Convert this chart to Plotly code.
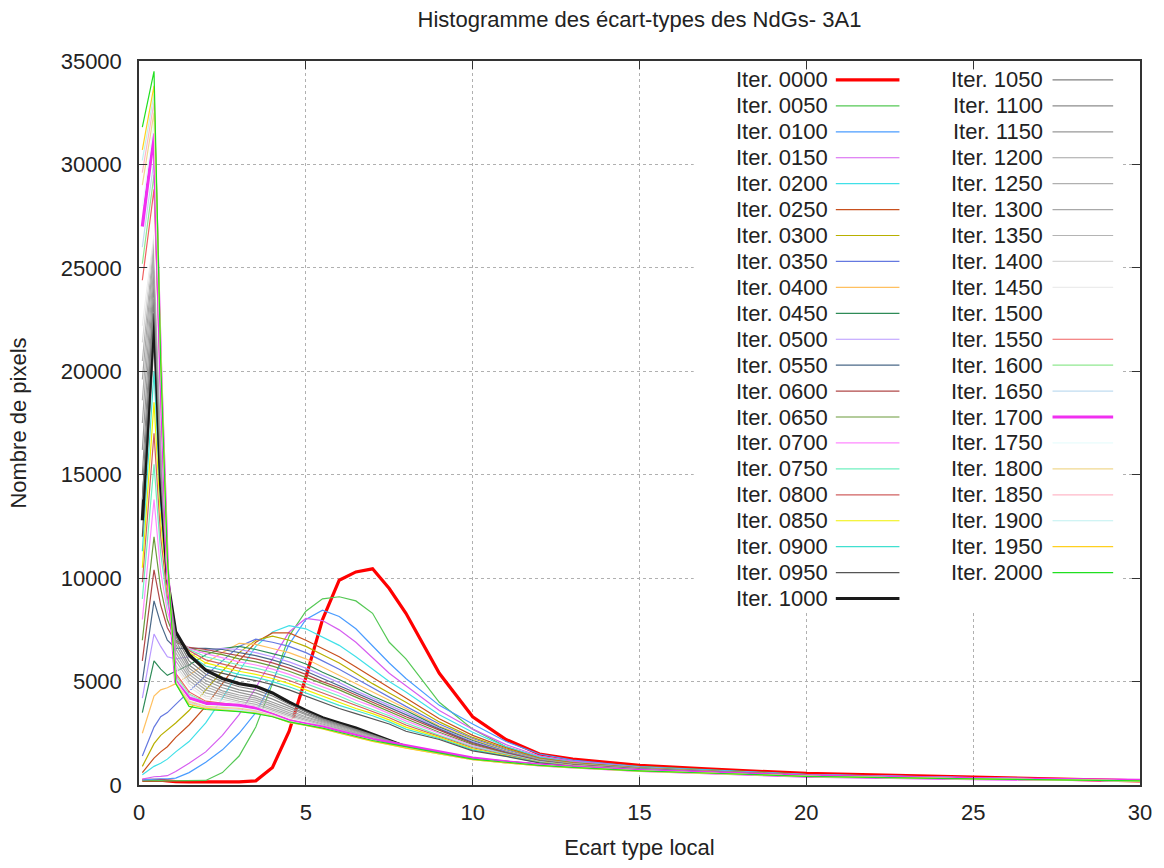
import plotly.graph_objects as go

# ---------------- data ----------------
X = [0.1, 0.45, 0.65, 0.85, 1.1, 1.5, 2.0, 2.5, 3.0, 3.5, 4.0, 4.5, 5.0, 5.5, 6.0, 6.5,
     7.0, 7.5, 8.0, 9.0, 10.0, 11.0, 12.0, 13.0, 15.0, 17.0, 20.0, 25.0, 30.0]

labels = ["Iter. %04d" % i for i in range(0, 2001, 50)]

it0000 = [220, 250, 230, 200, 160, 150, 150, 150, 150, 200, 850, 2600, 5200, 8000, 9900, 10300, 10450, 9500, 8300, 5400, 3300, 2200, 1500, 1250, 950, 780, 560, 380, 200]
it0050 = [200, 220, 210, 200, 200, 200, 220, 600, 1400, 2800, 4900, 7200, 8400, 9000, 9100, 8900, 8300, 6900, 6100, 4000, 2700, 1850, 1350, 1150, 900, 750, 520, 360, 220]
it0100 = [250, 300, 300, 300, 330, 600, 1100, 1700, 2500, 3500, 5000, 6800, 8000, 8450, 8150, 7550, 6700, 5900, 5150, 3850, 2950, 2100, 1500, 1200, 880, 720, 500, 350, 220]
it0150 = [280, 400, 420, 450, 650, 1050, 1600, 2400, 3400, 4700, 6100, 7400, 8050, 7950, 7500, 6900, 6150, 5400, 4800, 3600, 2700, 1950, 1400, 1150, 870, 700, 500, 340, 210]
it0200 = [500, 900, 1050, 1250, 1600, 2100, 3000, 4200, 5500, 6700, 7400, 7700, 7550, 7150, 6750, 6200, 5600, 5000, 4500, 3400, 2550, 1850, 1350, 1100, 850, 700, 490, 340, 210]
it0250 = [600, 1300, 1600, 1850, 2300, 2900, 3800, 4900, 6000, 6900, 7350, 7350, 7000, 6600, 6200, 5700, 5200, 4700, 4200, 3200, 2400, 1800, 1300, 1080, 830, 690, 480, 330, 210]
it0300 = [900, 2000, 2400, 2650, 3000, 3600, 4600, 5500, 6400, 7000, 7200, 7000, 6700, 6300, 5900, 5400, 4900, 4450, 4000, 3050, 2300, 1750, 1280, 1060, 820, 680, 470, 330, 200]
it0350 = [1400, 2800, 3300, 3500, 3900, 4500, 5300, 6000, 6700, 7050, 6900, 6700, 6400, 6000, 5600, 5150, 4700, 4250, 3800, 2950, 2250, 1700, 1250, 1040, 810, 670, 470, 330, 200]
it0400 = [2500, 4300, 4600, 4700, 4900, 5300, 5900, 6400, 6850, 6800, 6600, 6400, 6100, 5700, 5300, 4900, 4500, 4100, 3700, 2850, 2200, 1650, 1230, 1020, 800, 660, 460, 320, 200]
it0450 = [3500, 6000, 5600, 5300, 5500, 5800, 6300, 6600, 6700, 6550, 6350, 6150, 5850, 5450, 5100, 4700, 4300, 3950, 3600, 2800, 2150, 1620, 1200, 1000, 790, 650, 460, 320, 200]
it0500 = [4200, 7300, 6700, 6200, 6100, 6200, 6500, 6600, 6550, 6400, 6200, 5950, 5650, 5300, 4950, 4550, 4200, 3850, 3500, 2750, 2100, 1600, 1190, 990, 780, 640, 450, 320, 200]
it0550 = [5000, 8900, 7800, 7000, 6600, 6600, 6600, 6550, 6400, 6250, 6050, 5800, 5500, 5150, 4800, 4450, 4100, 3750, 3400, 2700, 2050, 1580, 1180, 980, 770, 640, 450, 310, 200]
it0600 = [6000, 10400, 8700, 7600, 6900, 6650, 6550, 6400, 6250, 6100, 5900, 5650, 5350, 5000, 4700, 4350, 4000, 3650, 3300, 2650, 2000, 1550, 1170, 970, 760, 630, 440, 310, 200]
it0650 = [7000, 12000, 9500, 8000, 7000, 6600, 6450, 6300, 6100, 5950, 5750, 5500, 5200, 4900, 4600, 4250, 3900, 3550, 3200, 2550, 1950, 1520, 1150, 960, 750, 620, 440, 310, 200]
it0700 = [8000, 13800, 10300, 8400, 7100, 6600, 6350, 6150, 5950, 5800, 5600, 5350, 5050, 4750, 4450, 4100, 3800, 3450, 3100, 2500, 1900, 1500, 1130, 950, 740, 620, 430, 300, 200]
it0750 = [9000, 15500, 11200, 8800, 7200, 6550, 6200, 6000, 5800, 5650, 5450, 5200, 4900, 4600, 4300, 3950, 3650, 3350, 3000, 2400, 1850, 1480, 1120, 940, 740, 610, 430, 300, 200]
it0800 = [9800, 17000, 12000, 9100, 7300, 6500, 6050, 5850, 5650, 5500, 5300, 5050, 4750, 4450, 4150, 3850, 3550, 3250, 2900, 2350, 1800, 1450, 1100, 930, 730, 610, 430, 300, 200]
it0850 = [10500, 18500, 12800, 9400, 7300, 6400, 5900, 5700, 5500, 5350, 5150, 4900, 4600, 4300, 4000, 3700, 3450, 3150, 2800, 2300, 1750, 1420, 1090, 920, 720, 600, 420, 300, 200]
it0900 = [11300, 20000, 13500, 9700, 7400, 6300, 5750, 5550, 5350, 5200, 5000, 4750, 4450, 4150, 3850, 3600, 3350, 3050, 2700, 2250, 1700, 1400, 1080, 910, 720, 600, 420, 300, 200]
it0950 = [12000, 21500, 14000, 9900, 7400, 6200, 5600, 5400, 5200, 5050, 4850, 4600, 4300, 4000, 3700, 3450, 3200, 2950, 2600, 2200, 1650, 1380, 1070, 900, 710, 590, 420, 300, 200]
it1000 = [12800, 22800, 14500, 10000, 7400, 6300, 5550, 5150, 4900, 4770, 4450, 4000, 3600, 3250, 3000, 2750, 2450, 2150, 1850, None, None, None, None, None, None, None, None, None, None]
it1050 = [13800, 23500, 15000, 10000, 7200, 6000, 5350, 5000, 4750, 4600, 4300, 3900, 3550, 3200, 2950, 2700, 2420, 2150, 1900, 1600, 1300, 1150, 1000, 880, 700, 590, 420, 300, 200]
it1100 = [15000, 24200, 15500, 10000, 7000, 5800, 5200, 4850, 4600, 4450, 4150, 3800, 3450, 3150, 2900, 2650, 2380, 2120, 1880, 1580, 1290, 1140, 990, 870, 700, 590, 420, 300, 200]
it1150 = [16200, 24800, 16000, 10000, 6800, 5650, 5050, 4700, 4480, 4300, 4000, 3700, 3380, 3100, 2850, 2600, 2350, 2100, 1870, 1570, 1280, 1130, 980, 870, 690, 580, 420, 300, 200]
it1200 = [17500, 25300, 16500, 10000, 6600, 5500, 4900, 4550, 4350, 4200, 3900, 3600, 3300, 3050, 2800, 2560, 2320, 2080, 1860, 1560, 1280, 1120, 980, 860, 690, 580, 420, 300, 200]
it1250 = [18600, 25700, 17000, 10000, 6400, 5350, 4750, 4450, 4250, 4100, 3800, 3500, 3250, 3000, 2750, 2520, 2290, 2060, 1850, 1550, 1270, 1110, 970, 860, 690, 580, 420, 300, 200]
it1300 = [19600, 26000, 17300, 10000, 6200, 5200, 4600, 4350, 4150, 4000, 3700, 3420, 3180, 2950, 2700, 2480, 2260, 2040, 1840, 1540, 1270, 1110, 970, 860, 690, 580, 420, 300, 200]
it1350 = [20500, 26300, 17600, 10000, 6000, 5050, 4450, 4250, 4050, 3900, 3620, 3350, 3120, 2900, 2660, 2450, 2240, 2030, 1840, 1540, 1260, 1100, 960, 860, 680, 580, 420, 300, 200]
it1400 = [21400, 26600, 17900, 10000, 5800, 4900, 4300, 4150, 3980, 3820, 3550, 3280, 3060, 2850, 2620, 2420, 2220, 2020, 1830, 1530, 1260, 1100, 960, 850, 680, 580, 420, 300, 200]
it1450 = [22200, 26800, 18200, 10000, 5650, 4750, 4200, 4050, 3920, 3760, 3500, 3220, 3020, 2820, 2600, 2400, 2200, 2010, 1830, 1530, 1250, 1100, 960, 850, 680, 570, 420, 300, 200]
it1500 = [23000, 27000, 18500, 10000, 5500, 4600, 4100, 4000, 3880, 3720, 3460, 3180, 3000, 2800, 2580, 2380, 2180, 2000, 1820, 1520, 1250, 1090, 950, 850, 680, 570, 420, 300, 200]
it1550 = [24400, 28800, 19000, 10200, 5400, 4500, 4050, 3950, 3850, 3700, 3450, 3150, 2980, 2790, 2570, 2370, 2170, 1990, 1820, 1520, 1250, 1090, 950, 850, 680, 570, 420, 300, 200]
it1600 = [25200, 29500, 19300, 10300, 5300, 4400, 4000, 3920, 3820, 3680, 3430, 3130, 2960, 2780, 2560, 2360, 2160, 1980, 1820, 1520, 1240, 1090, 950, 850, 680, 570, 420, 300, 200]
it1650 = [26000, 30200, 19600, 10400, 5200, 4350, 3980, 3900, 3800, 3660, 3420, 3120, 2950, 2770, 2560, 2360, 2160, 1980, 1810, 1510, 1240, 1080, 950, 850, 680, 570, 420, 300, 200]
it1700 = [27000, 31500, 20000, 10500, 5000, 4200, 3950, 3900, 3850, 3700, 3400, 3100, 2950, 2800, 2600, 2400, 2200, 2050, 1900, 1600, 1300, 1120, 970, 870, 700, 600, 430, 310, 230]
it1750 = [28000, 32000, 20300, 10600, 5000, 4100, 3850, 3800, 3750, 3620, 3380, 3080, 2920, 2750, 2540, 2340, 2150, 1970, 1800, 1510, 1230, 1080, 940, 840, 680, 570, 420, 300, 200]
it1800 = [29000, 32500, 20500, 10700, 4950, 4050, 3800, 3750, 3700, 3580, 3350, 3060, 2910, 2740, 2530, 2330, 2140, 1960, 1800, 1500, 1230, 1080, 940, 840, 680, 570, 420, 300, 200]
it1850 = [29600, 33000, 20700, 10800, 4950, 4000, 3750, 3700, 3650, 3540, 3330, 3040, 2900, 2730, 2520, 2320, 2130, 1960, 1790, 1500, 1230, 1070, 940, 840, 670, 570, 420, 300, 200]
it1900 = [30200, 33400, 20800, 10900, 4900, 3950, 3720, 3660, 3620, 3510, 3320, 3030, 2890, 2720, 2510, 2310, 2120, 1950, 1790, 1500, 1220, 1070, 940, 840, 670, 570, 420, 300, 200]
it1950 = [30700, 33800, 20800, 11000, 4900, 3900, 3700, 3630, 3580, 3480, 3310, 3020, 2880, 2710, 2500, 2300, 2110, 1950, 1780, 1500, 1220, 1070, 930, 840, 670, 570, 420, 300, 200]
it2000 = [31800, 34500, 20500, 11000, 4900, 3800, 3650, 3600, 3550, 3450, 3300, 3050, 2900, 2750, 2550, 2350, 2150, 2000, 1850, 1550, 1250, 1100, 950, 850, 680, 580, 420, 300, 200]

series = [it0000, it0050, it0100, it0150, it0200, it0250, it0300, it0350, it0400, it0450,
          it0500, it0550, it0600, it0650, it0700, it0750, it0800, it0850, it0900, it0950,
          it1000, it1050, it1100, it1150, it1200, it1250, it1300, it1350, it1400, it1450,
          it1500, it1550, it1600, it1650, it1700, it1750, it1800, it1850, it1900, it1950, it2000]

colors = ["#ff0000", "#55c855", "#4a9cff", "#d65ef0", "#40e0e8", "#c8501e", "#b8b000", "#6478e0",
          "#ffc060", "#2e8b57", "#b898ff", "#4a6888", "#b04848", "#6a9a3a", "#ff88ff", "#70f0c0",
          "#d06060", "#f0f000", "#40e0d0", "#555555", "#1a1a1a",
          "#808080", "#8c8c8c", "#989898", "#a4a4a4", "#b0b0b0", "#a8a8a8", "#b4b4b4", "#d8d8d8",
          "#ececec", "#ffffff", "#f06060", "#90e890", "#c0dcf0", "#f030f0", "#e8fcfc", "#f0d890",
          "#ffb8c8", "#c0f0f0", "#ffd020", "#20e020"]
thick = {"Iter. 0000", "Iter. 1000", "Iter. 1700"}

FONT = "Liberation Sans, Arial, Helvetica, sans-serif"
W, H = 1164, 868
ML, MT, MR, MB = 139, 61, 18, 81
PW, PH = W - ML - MR, H - MT - MB


def sx(p):  # pixel x -> paper
    return (p - ML) / PW


def sy(p):  # pixel y -> paper
    return (H - MB - p) / PH


fig = go.Figure()
for name, ys, col in zip(labels, series, colors):
    fig.add_trace(go.Scatter(
        x=X, y=ys, mode="lines", name=name, showlegend=False,
        line=dict(color=col, width=3.2 if name in thick else 1.2),
        connectgaps=False,
    ))

# legend (two columns, text left of the sample, gnuplot style)
shapes = [dict(type="rect", xref="paper", yref="paper", layer="above",
               x0=sx(697), x1=sx(1128), y0=sy(612), y1=sy(70),
               fillcolor="white", line=dict(width=0))]
annotations = []
for i, (name, col) in enumerate(zip(labels, colors)):
    c = 0 if i < 21 else 1
    r = i if c == 0 else i - 21
    ty = 80 + 26 * r
    tx = 834 if c == 0 else 1050
    lx0, lx1 = (840, 904) if c == 0 else (1058, 1119)
    annotations.append(dict(text=name, xref="paper", yref="paper", x=sx(tx), y=sy(ty),
                            xanchor="right", yanchor="middle", showarrow=False,
                            font=dict(family=FONT, size=22, color="#222222")))
    shapes.append(dict(type="line", xref="paper", yref="paper", layer="above",
                       x0=sx(lx0), x1=sx(lx1), y0=sy(ty), y1=sy(ty),
                       line=dict(color=col, width=3.2 if name in thick else 1.2)))

axis_common = dict(
    showline=True, linecolor="#333333", linewidth=1.5, mirror="allticks",
    ticks="inside", ticklen=8, tickwidth=1.2, tickcolor="#333333",
    showgrid=True, gridcolor="#b0b0b0", griddash="dot", gridwidth=1,
    zeroline=False, tickfont=dict(family=FONT, size=22, color="#222222"),
)

fig.update_layout(
    width=W, height=H,
    margin=dict(l=ML, r=MR, t=MT, b=MB),
    paper_bgcolor="white", plot_bgcolor="white",
    title=dict(text="Histogramme des écart-types des NdGs- 3A1", x=0.5, xref="paper",
               y=1 - 19 / H, yref="container", xanchor="center", yanchor="middle",
               font=dict(family=FONT, size=22, color="#222222")),
    xaxis=dict(range=[0, 30], tick0=0, dtick=5, ticklabelstandoff=7,
               title=dict(text="Ecart type local", standoff=15,
                          font=dict(family=FONT, size=22, color="#222222")),
               **axis_common),
    yaxis=dict(range=[0, 35000], tick0=0, dtick=5000, tickformat="d", ticklabelstandoff=11,
               title=dict(text="Nombre de pixels", standoff=28,
                          font=dict(family=FONT, size=22, color="#222222")),
               **axis_common),
    shapes=shapes,
    annotations=annotations,
    showlegend=False,
)

fig.write_html("out.html", config={"displayModeBar": False},
               post_script="document.body.style.margin='0';")
